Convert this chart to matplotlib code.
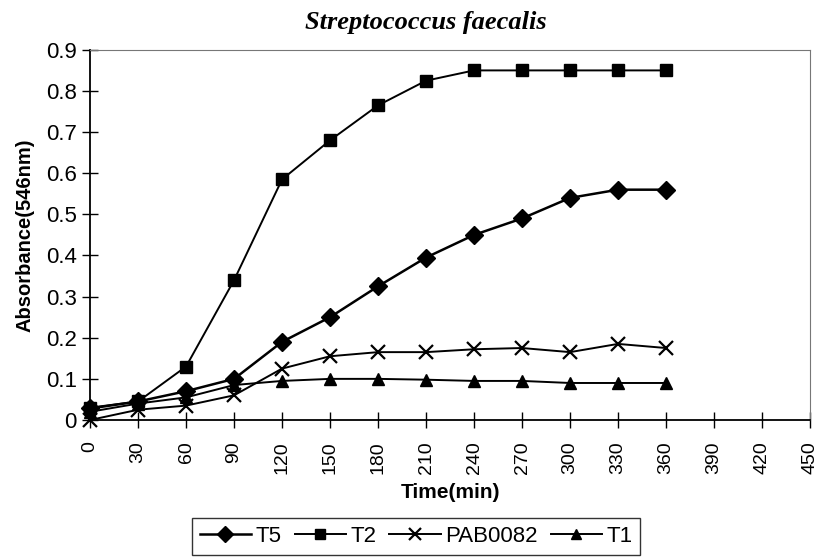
import numpy as np
import matplotlib.pyplot as plt

time_min = [0, 30, 60, 90, 120, 150, 180, 210, 240, 270, 300, 330, 360]
t5 = [0.028, 0.045, 0.07, 0.10, 0.19, 0.25, 0.325, 0.395, 0.45, 0.49, 0.54, 0.56, 0.56]
t2 = [0.03, 0.045, 0.13, 0.34, 0.585, 0.68, 0.765, 0.825, 0.85, 0.85, 0.85, 0.85, 0.85]
pab0082 = [0.0, 0.025, 0.035, 0.06, 0.125, 0.155, 0.165, 0.165, 0.172, 0.175, 0.165, 0.185, 0.175]
t1 = [0.02, 0.04, 0.055, 0.085, 0.095, 0.10, 0.10, 0.098, 0.095, 0.095, 0.09, 0.09, 0.09]

x_ticks = list(range(0, 451, 30))
y_ticks = [0, 0.1, 0.2, 0.3, 0.4, 0.5, 0.6, 0.7, 0.8, 0.9]
y_labels = ["0", "0.1", "0.2", "0.3", "0.4", "0.5", "0.6", "0.7", "0.8", "0.9"]

plt.rcParams["font.family"] = ["Liberation Sans", "DejaVu Sans"]

fig = plt.figure(figsize=(8.19, 5.6), dpi=100)
ax = fig.add_axes([0.110, 0.250, 0.879, 0.661])

series = [
    ("T5", t5, dict(marker="D", markersize=9, linewidth=1.8)),
    ("T2", t2, dict(marker="s", markersize=9, linewidth=1.4)),
    ("PAB0082", pab0082, dict(marker="x", markersize=10, markeredgewidth=1.6, linewidth=1.4)),
    ("T1", t1, dict(marker="^", markersize=9, linewidth=1.4)),
]
for label, vals, style in series:
    ax.plot(time_min, vals, color="black", label=label, clip_on=False, **style)

ax.set_xlim(0, 450)
ax.set_ylim(0, 0.9)
ax.set_xticks(x_ticks)
ax.set_xticklabels([str(t) for t in x_ticks], rotation=90, fontsize=14)
ax.set_yticks(y_ticks)
ax.set_yticklabels(y_labels, fontsize=16)
ax.tick_params(direction="inout", length=11, width=1)
ax.tick_params(axis="x", pad=10)
ax.tick_params(axis="y", pad=4)

for side in ["top", "right"]:
    ax.spines[side].set_color("#777777")
    ax.spines[side].set_linewidth(0.8)
for side in ["left", "bottom"]:
    ax.spines[side].set_linewidth(1.3)

ax.set_xlabel("Time(min)", fontsize=15, fontweight="bold", labelpad=6)
ax.set_ylabel("Absorbance(546nm)", fontsize=14.5, fontweight="bold", labelpad=8)
ax.set_title("Streptococcus faecalis", fontsize=19, fontweight="bold", style="italic",
             family="Liberation Serif", pad=15, x=0.467)

fig.legend(loc="upper center", bbox_to_anchor=(0.508, 0.075), ncol=4, frameon=True,
           fancybox=False, edgecolor="black", fontsize=16, handlelength=2.3,
           columnspacing=0.6, handletextpad=0.2, borderpad=0.35, markerscale=0.85,
           borderaxespad=0)

fig.savefig("out.png", dpi=100)
